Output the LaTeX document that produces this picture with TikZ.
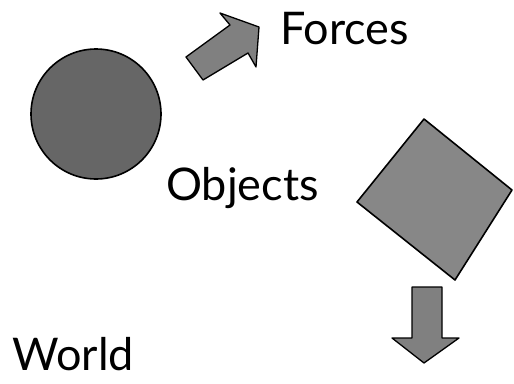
\documentclass[tikz,border=0pt]{standalone}
\usepackage{fontspec}
\setmainfont{Lato}
\begin{document}
\begin{tikzpicture}[x=1pt,y=-1pt,
  solidshape/.style={draw=black,line width=1.6pt,line join=round},
  lbl/.style={anchor=base west,inner sep=0pt,font=\fontsize{45}{47}\selectfont}]
\useasboundingbox (0,0) rectangle (514,383);
% circle
\node[solidshape,circle,fill=black!60,minimum size=130pt,inner sep=0pt] (ball) at (96,114) {};
% square
\draw[solidshape,fill=black!47] (424,119) -- (512,190) -- (455,280) -- (357,202) -- cycle;
% force arrow up-right
\draw[solidshape,fill=black!50,line width=1.3pt] (186,57) -- (230,25) -- (220,13) -- (259,27) -- (256,67) -- (248,53) -- (203,80) -- cycle;
% down arrow
\draw[solidshape,fill=black!50,line width=1.3pt] (412,287) -- (442,287) -- (442,338) -- (459,338) -- (424,363) -- (392,338) -- (412,338) -- cycle;
\node[lbl] (forces) at (280,44) {Forces};
\node[lbl] (objects) at (166,200) {Objects};
\node[lbl] (world) at (12,370) {World};
\end{tikzpicture}
\end{document}
